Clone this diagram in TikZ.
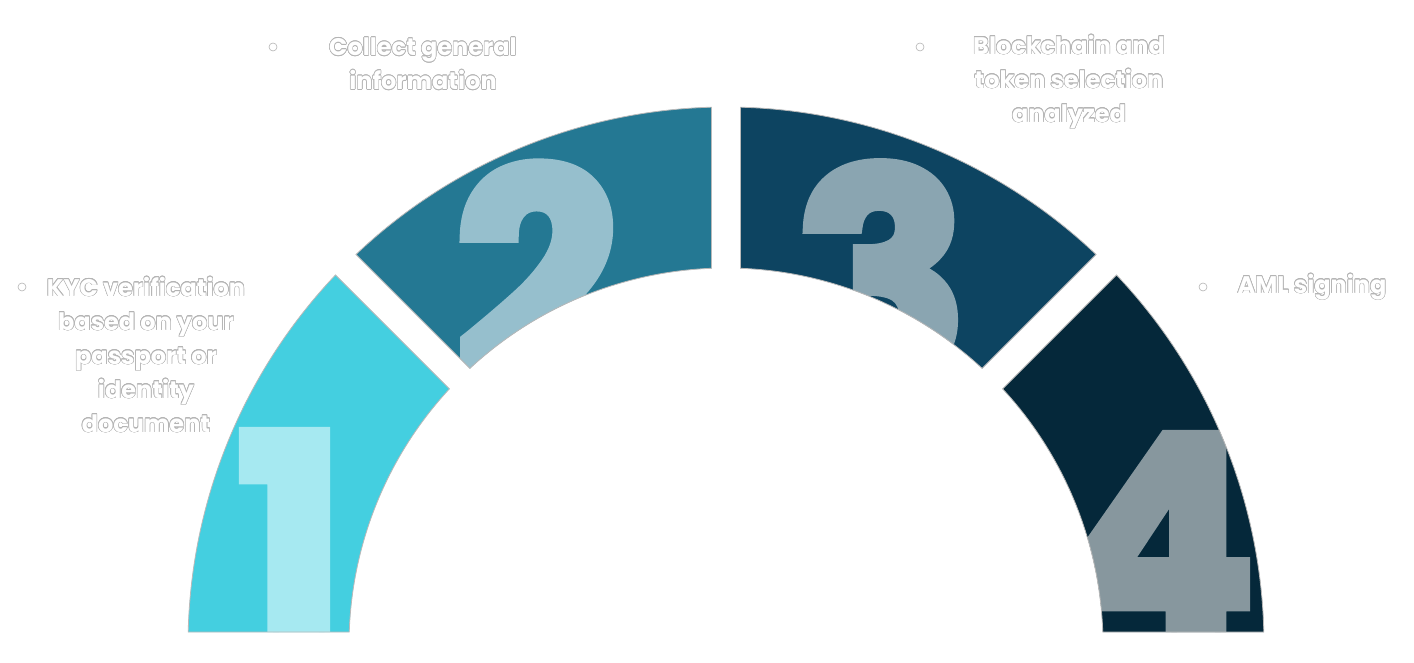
\documentclass[tikz,border=0pt]{standalone}
\usepackage{fontspec}
\setmainfont{Poppins}
\newfontfamily\digitfont{Poppins Bold}[FakeBold=4]
\newfontfamily\labelfont{Poppins}
\usepackage{contour}
\contourlength{0.6pt}
\usetikzlibrary{calc}

\definecolor{segone}{HTML}{44CFE0}
\definecolor{segtwo}{HTML}{247893}
\definecolor{segthree}{HTML}{0D4461}
\definecolor{segfour}{HTML}{05283A}
\definecolor{digone}{HTML}{A6E9F1}
\definecolor{digtwo}{HTML}{96BFCD}
\definecolor{digthree}{HTML}{8AA5B1}
\definecolor{digfour}{HTML}{87979E}
\definecolor{rimgray}{HTML}{B4B4B4}

\newcommand\outl[1]{\contour{rimgray}{#1}}

\begin{document}
\begin{tikzpicture}[x=1pt,y=1pt,
  seg/.style={draw=gray!55, line width=0.8pt},
  digit/.style={inner sep=0pt, anchor=base,
    font=\digitfont\fontsize{288}{288}\selectfont},
  infotext/.style={align=center, inner sep=0pt, text=white,
    font=\labelfont\bfseries\fontsize{24}{34}\selectfont},
  bullet/.style={circle, draw=rimgray, fill=white, line width=0.6pt,
    minimum size=8pt, inner sep=0pt}]
  \useasboundingbox (0,0) rectangle (1414,663);

  % ring geometry
  \def\Ro{538}   % outer radius
  \def\Ri{377}   % inner radius
  \coordinate (c) at (726,18);

  % four ring segments: angles, end offsets (half gap / bottom cut), colours, digit spot
  \foreach \lo/\hi/\dlo/\dhi/\col/\dcol/\num/\px/\py [count=\i] in
    {135/180/14.5/13/segone/digone/1/291/20,
     90/135/14.5/14.5/segtwo/digtwo/2/537/284,
     45/90/14.5/14.5/segthree/digthree/3/881/284,
     0/45/13/14.5/segfour/digfour/4/1158/20}
  {
    \pgfmathsetmacro\oa{\hi-asin(\dhi/\Ro)}
    \pgfmathsetmacro\ob{\lo+asin(\dlo/\Ro)}
    \pgfmathsetmacro\ia{\lo+asin(\dlo/\Ri)}
    \pgfmathsetmacro\ib{\hi-asin(\dhi/\Ri)}
    \def\segpath{($(c)+(\oa:\Ro)$) arc[start angle=\oa, end angle=\ob, radius=\Ro]
      -- ($(c)+(\ia:\Ri)$) arc[start angle=\ia, end angle=\ib, radius=\Ri] -- cycle}
    \fill[\col] \segpath;
    \begin{scope}
      \clip \segpath;
      \node[digit, text=\dcol] (dig\i) at (\px,\py) {\num};
    \end{scope}
    \draw[seg] \segpath;
  }

  % step texts
  \node[infotext] (kyc) at (146,308)
    {\outl{KYC verification}\\ \outl{based on your}\\ \outl{passport or}\\
     \outl{identity}\\ \outl{document}};
  \node[infotext] (collect) at (423,599)
    {\outl{Collect general}\\ \outl{information}};
  \node[infotext] (chain) at (1069,581)
    {\outl{Blockchain and}\\ \outl{token selection}\\ \outl{analyzed}};
  \node[infotext] (aml) at (1312,376) {\outl{AML signing}};

  % bullets
  \node[bullet] (b1) at (22,376) {};
  \node[bullet] (b2) at (273,616) {};
  \node[bullet] (b3) at (920,616) {};
  \node[bullet] (b4) at (1203,376) {};
\end{tikzpicture}
\end{document}
